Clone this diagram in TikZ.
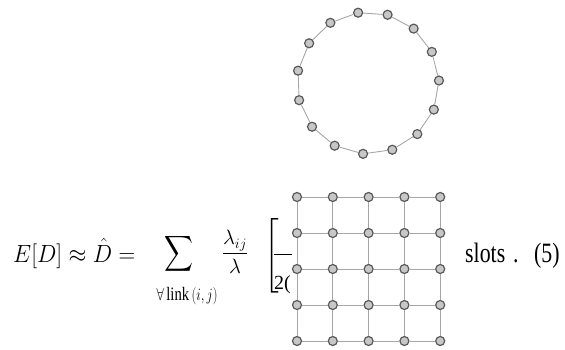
\documentclass[tikz,border=0pt]{standalone}
\usepackage{amsmath}
\usepackage{fontspec}
\setmainfont{Liberation Serif}
\usetikzlibrary{positioning}
\tikzset{
  site/.style = {circle, draw=black!65, fill=black!22, line width=1.2pt,
    inner sep=0pt, minimum size=9pt},
  link/.style = {draw=black!35, line width=0.9pt},
  cover/.style = {fill=white, draw=none},
  eqtext/.style = {inner sep=0pt, font=\fontsize{28}{34}\selectfont},
}
\begin{document}
\begin{tikzpicture}[x=1pt, y=-1pt]
  \useasboundingbox (0,0) rectangle (565,349);
  % formula, piece by piece
  \node[eqtext, anchor=base west] (lhs) at (13,262)
    {\resizebox{122pt}{\height}{$E[D]\approx\hat{D}=$}};
  \node[eqtext, anchor=center] (sumop) at (179,254)
    {\resizebox{29pt}{\height}{$\displaystyle\sum$}};
  \node[eqtext, anchor=base, font=\fontsize{19}{22}\selectfont] (sumsub) at (187,300)
    {\resizebox{61pt}{\height}{$\forall$\,link\,$(i,j)$}};
  \node[eqtext, anchor=base, font=\fontsize{21}{25}\selectfont] (ratio) at (235,259)
    {$\displaystyle\frac{\lambda_{ij}}{\lambda}$};
  \node[eqtext, anchor=base west] (brack) at (264,262)
    {$\left[\rule[-29pt]{0pt}{64pt}\right.$};
  \node[eqtext, anchor=base west, font=\fontsize{20}{24}\selectfont] (denom) at (274,289) {2(};
  \draw[line width=1pt] (denom.west |- 0,254) -- (292,254);
  \node[eqtext, anchor=base west] (slots) at (465,262)
    {\scalebox{0.78}[1]{slots\hspace{10pt}.\hspace{20pt}(5)}};
  % ring
  \foreach \k in {0,...,14}
    \node[site] (r\k) at ({368+71*cos(98-24*\k)}, {83-71*sin(98-24*\k)}) {};
  \foreach \k in {0,...,14} {
    \pgfmathtruncatemacro{\n}{mod(\k+1,15)}
    \draw[link] (r\k) -- (r\n);
  }
  % grid
  \fill[cover] (292,183) rectangle (452,349);
  \foreach \i in {0,...,4}
    \foreach \j in {0,...,4}
      \node[site] (g\i\j) at (297+35.8*\i, 197+36*\j) {};
  \foreach \i in {0,...,4}
    \foreach \j in {0,...,3} {
      \pgfmathtruncatemacro{\jn}{\j+1}
      \draw[link] (g\i\j) -- (g\i\jn);
      \draw[link] (g\j\i) -- (g\jn\i);
    }
\end{tikzpicture}
\end{document}
